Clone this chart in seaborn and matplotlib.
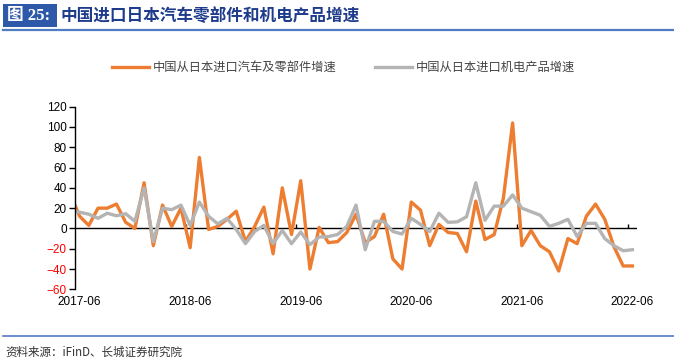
import pandas as pd
import seaborn as sns
import matplotlib.pyplot as plt
from matplotlib.patches import Rectangle
from matplotlib.lines import Line2D

# monthly data, 2017-05 .. 2022-06 (first point sits just left of the axis and gets clipped)
months = pd.date_range("2017-05-01", "2022-06-01", freq="MS").strftime("%Y-%m").tolist()
auto_parts = [34, 12, 3, 20, 20, 24, 6, 0, 45, -17, 23, 2, 20, -19, 70, -1, 2, 9, 17, -13,
              2, 21, -25, 40, -6, 47, -40, 1, -14, -13, -4, 14, -14, -8, 14, -30, -40, 26,
              18, -17, 4, -4, -5, -23, 27, -11, -6, 30, 104, -17, -2, -17, -23, -42, -10,
              -15, 12, 24, 9, -18, -37, -37]
electro = [18, 16, 14, 10, 15, 12.5, 14.5, 7, 40, -13, 20, 18.5, 23, 3, 26, 12, 4.5, 10, -1,
           -15, -3, 3, -15, -2, -15, -3.5, -16, -8.5, -8, -6, 2, 23, -21, 7, 7, -3, -5.5, 10,
           4, -3, 15, 6, 6.5, 11.5, 45, 8, 22, 22, 33, 20, 16.5, 13, 2, 5, 9, -8, 5, 5, -10,
           -17, -22, -21]
tick_labels = ["2017-06", "2018-06", "2019-06", "2020-06", "2021-06", "2022-06"]
name_auto = "中国从日本进口汽车及零部件增速"
name_elec = "中国从日本进口机电产品增速"

df = pd.DataFrame({"month": months, "auto": auto_parts, "elec": electro})
df["pos"] = range(-1, len(df) - 1)

orange = "#ED7D31"
grey = "#B4B4B4"

plt.rcParams['font.family'] = ['Liberation Sans', 'Noto Sans CJK SC']
fig = plt.figure(figsize=(6.74, 3.62), dpi=100)
ax = fig.add_axes([75/674, 1-289.3/362, 562/674, 182.6/362])

sns.lineplot(data=df, x="pos", y="auto", color=orange, lw=2.4, ax=ax)
sns.lineplot(data=df, x="pos", y="elec", color=grey, lw=2.4, ax=ax)

ax.set_xlim(-0.5, len(df) - 1.5)
ax.set_ylim(-60, 120)
ax.set_yticks(range(-60, 121, 20))
ax.set_xlabel("")
ax.set_ylabel("")
for s in ["top", "right", "bottom"]:
    ax.spines[s].set_visible(False)
ax.spines["left"].set_linewidth(1)
ax.tick_params(axis="y", length=4, width=1, labelsize=8.5, pad=2)
for lab in ax.get_yticklabels():
    if lab.get_text().startswith("−") or lab.get_text().startswith("-"):
        lab.set_color("red")

# category labels every 12 months, tick marks sit between categories on the zero line
lab_pos = [months.index(m) - 1 for m in tick_labels]
ax.set_xticks(lab_pos)
ax.set_xticklabels(tick_labels, fontsize=8.5)
ax.tick_params(axis="x", length=0, pad=5)
ax.axhline(0, color="black", lw=1, zorder=1)
ax.vlines([p - 0.5 for p in lab_pos[1:]], 0, 4.5, color="black", lw=1, zorder=1)

handles = [Line2D([], [], color=orange, lw=2.4), Line2D([], [], color=grey, lw=2.4)]
fig.legend(handles, [name_auto, name_elec], loc="center", bbox_to_anchor=(0.51, 0.812),
           ncol=2, frameon=False, fontsize=8.8, handlelength=3.0, columnspacing=3.1,
           handletextpad=0.35, labelcolor="#444444")

# header
fig.patches.append(Rectangle((3/674, 1-27/362), 54/674, 23/362, transform=fig.transFigure,
                             facecolor="#2E59A8", edgecolor="none"))
fig.text(7/674, 1-16/362, "图 25:", color="white", fontsize=12, fontweight="bold",
         family=["Liberation Serif", "Noto Sans CJK SC"], va="center")
fig.text(60/674, 1-16/362, "中国进口日本汽车零部件和机电产品增速", color="#1F3C8C",
         fontsize=12, fontweight="bold", family=["Noto Sans CJK SC"], va="center")
fig.add_artist(Line2D([3/674, 1], [1-30/362, 1-30/362], color="#4F7CC2", lw=1.6))

# footer
fig.add_artist(Line2D([3/674, 1], [1-336/362, 1-336/362], color="#4F7CC2", lw=1.2))
fig.text(5/674, 1-352/362, "资料来源：iFinD、长城证券研究院", color="#333333", fontsize=8.3,
         fontstyle="italic", family=["Noto Sans CJK SC"], va="center")

fig.savefig("out.png", dpi=100)
